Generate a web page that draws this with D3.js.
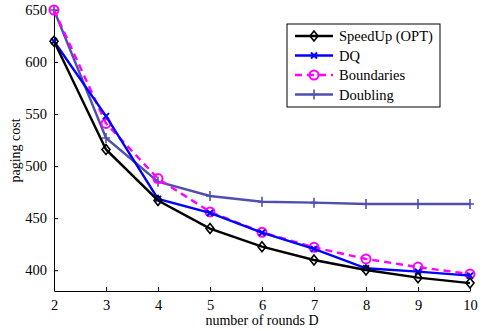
<!DOCTYPE html>
<html>
<head>
<meta charset="utf-8">
<script src="https://cdn.jsdelivr.net/npm/d3@7"></script>
<style>
  body { margin: 0; background: #fff; }
  svg text { font-family: "Liberation Serif", "Times New Roman", Times, serif !important; fill: #000; }
</style>
</head>
<body>
<div id="chart"></div>
<script>
const rounds = [2, 3, 4, 5, 6, 7, 8, 9, 10];
const speedUp = [620, 516, 467, 440, 422.6, 409.8, 400.2, 392.8, 387.6];
const dq = [620, 548, 468.5, 455, 436, 420.5, 401.8, 398.6, 394.8];
const boundaries = [650, 541, 488, 456, 436.4, 422, 410.8, 403, 396.3];
const doubling = [650, 527, 485, 471.3, 465.8, 464.9, 463.6, 463.6, 463.6];
const seriesNames = ["SpeedUp (OPT)", "DQ", "Boundaries", "Doubling"];
const yTicks = [400, 450, 500, 550, 600, 650];

const width = 482, height = 331;
const margin = {left: 54, right: 12, top: 10, bottom: 40};

const svg = d3.select("#chart").append("svg")
  .attr("width", width).attr("height", height)
  .attr("font-family", "Liberation Serif");

const x = d3.scaleLinear().domain([2, 10]).range([margin.left, width - margin.right]);
const y = d3.scaleLinear().domain([380, 650]).range([height - margin.bottom, margin.top]);

// axes (ticks pointing inward, matlab style)
svg.append("g")
  .attr("transform", "translate(0," + y(380) + ")")
  .call(d3.axisBottom(x).tickValues(rounds).tickFormat(d3.format("d")).tickSizeInner(-4).tickSizeOuter(0).tickPadding(9))
  .attr("font-family", null).attr("font-size", null);
svg.append("g")
  .attr("transform", "translate(" + x(2) + ",0)")
  .call(d3.axisLeft(y).tickValues(yTicks).tickSizeInner(-4).tickSizeOuter(0).tickPadding(7))
  .attr("font-family", null).attr("font-size", null);
svg.selectAll(".tick text").style("font-size", "14.5px");
svg.selectAll(".domain").attr("stroke", "#000").attr("stroke-width", 1);

svg.append("text")
  .attr("x", (x(2) + x(10)) / 2).attr("y", 325)
  .attr("text-anchor", "middle").style("font-size", "14px")
  .text("number of rounds D");
svg.append("text")
  .attr("transform", "translate(20," + y(515) + ") rotate(-90)")
  .attr("text-anchor", "middle").style("font-size", "14px")
  .text("paging cost");

const series = [
  {name: seriesNames[0], values: speedUp, color: "#000000", dash: null, marker: "diamond"},
  {name: seriesNames[1], values: dq, color: "#0000ff", dash: null, marker: "x"},
  {name: seriesNames[2], values: boundaries, color: "#ff00ff", dash: "7,5", marker: "circle"},
  {name: seriesNames[3], values: doubling, color: "#4f4fb0", dash: null, marker: "plus"}
];

function drawMarker(g, type, cx, cy, color) {
  if (type === "diamond") {
    g.append("path")
      .attr("d", `M${cx},${cy-5}L${cx+4},${cy}L${cx},${cy+5}L${cx-4},${cy}Z`)
      .attr("fill", "none").attr("stroke", color).attr("stroke-width", 1.6);
  } else if (type === "x") {
    g.append("path")
      .attr("d", `M${cx-3},${cy-3}L${cx+3},${cy+3}M${cx-3},${cy+3}L${cx+3},${cy-3}`)
      .attr("stroke", color).attr("stroke-width", 2);
  } else if (type === "circle") {
    g.append("circle").attr("cx", cx).attr("cy", cy).attr("r", 4.5)
      .attr("fill", "none").attr("stroke", color).attr("stroke-width", 2);
  } else if (type === "plus") {
    g.append("path")
      .attr("d", `M${cx-4},${cy}L${cx+4},${cy}M${cx},${cy-5}L${cx},${cy+5}`)
      .attr("stroke", color).attr("stroke-width", 1.6);
  }
}

const line = d3.line().x((d, i) => x(rounds[i])).y(d => y(d));

// draw in reverse so SpeedUp sits on top
series.slice().reverse().forEach(s => {
  const g = svg.append("g");
  g.append("path")
    .attr("d", line(s.values))
    .attr("fill", "none")
    .attr("stroke", s.color)
    .attr("stroke-width", 2.4)
    .attr("stroke-dasharray", s.dash);
  s.values.forEach((v, i) => drawMarker(g, s.marker, x(rounds[i]), y(v), s.color));
});

// legend
const legend = svg.append("g").attr("transform", "translate(287,24)");
legend.append("rect").attr("width", 153).attr("height", 83)
  .attr("fill", "#fff").attr("stroke", "#000").attr("stroke-width", 1);
series.forEach((s, i) => {
  const ly = 12 + i * 19.5;
  legend.append("line").attr("x1", 8).attr("x2", 46).attr("y1", ly).attr("y2", ly)
    .attr("stroke", s.color).attr("stroke-width", 2.4).attr("stroke-dasharray", s.dash);
  drawMarker(legend, s.marker, 27, ly, s.color);
  legend.append("text").attr("x", 52).attr("y", ly + 5)
    .style("font-size", "14.5px").text(s.name);
});
</script>
</body>
</html>
